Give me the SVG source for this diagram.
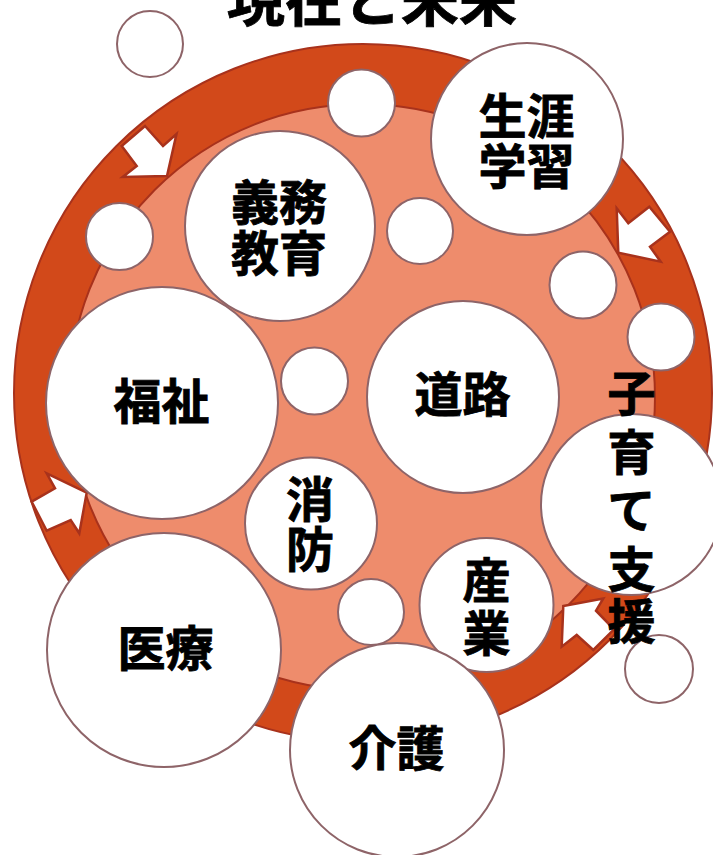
<svg xmlns="http://www.w3.org/2000/svg" width="713" height="855" viewBox="0 0 713 855">
<style>
.ring{fill:#D2491A;stroke:#A8321C;stroke-width:2}
.inner{fill:#EE8C6C;stroke:#A8321C;stroke-width:2}
.arrow{fill:#FFFFFF;stroke:#A8321C;stroke-width:2.5;stroke-linejoin:miter}
.c{fill:#FFFFFF;stroke:#8E6468;stroke-width:2}
.t{font-family:"Noto Sans CJK JP","Noto Sans CJK SC",sans-serif;font-weight:bold;font-size:48px;fill:#000000;stroke:#000000;stroke-width:0.8;text-anchor:middle}
.title{font-family:"Noto Sans CJK JP","Noto Sans CJK SC",sans-serif;font-weight:bold;font-size:58px;fill:#000000;stroke:#000000;stroke-width:0.8;text-anchor:middle}
</style>
<rect width="713" height="855" fill="#FFFFFF"/>
<text class="title" x="372" y="21">現在と未来</text>
<g id="cycle">
<circle class="ring" cx="363" cy="393" r="349"/>
<circle class="inner" cx="362" cy="397" r="293"/>
</g>
<g id="connectors">
<polygon class="arrow" points="121.7,146 145,126 163,146 176.5,134 167,176 122.7,177 136.7,166"/>
<polygon class="arrow" points="616.7,208.3 628.3,223.3 649.3,206.7 670,231.7 650,246.7 660.7,261.7 618.3,252.7"/>
<polygon class="arrow" points="31.7,501.7 55,488.3 46.7,473.3 86.7,492.7 79.3,533.3 70.7,520 46.7,530.7"/>
<polygon class="arrow" points="563.3,606 603.3,598.5 596,610.7 614,629.3 593.3,650 576.7,635 561.7,646.7"/>
</g>
<g id="bubble-s1"><circle class="c" cx="150" cy="44" r="33"/></g>
<g id="bubble-s2"><circle class="c" cx="361.5" cy="103" r="33.5"/></g>
<g id="bubble-s3"><circle class="c" cx="119.5" cy="236.5" r="33.5"/></g>
<g id="bubble-s4"><circle class="c" cx="420" cy="231" r="33"/></g>
<g id="bubble-s5"><circle class="c" cx="583" cy="285" r="33.5"/></g>
<g id="bubble-s6"><circle class="c" cx="661" cy="337" r="33.5"/></g>
<g id="bubble-s7"><circle class="c" cx="314.5" cy="381" r="33.5"/></g>
<g id="bubble-s8"><circle class="c" cx="371" cy="612" r="33"/></g>
<g id="bubble-s9"><circle class="c" cx="659" cy="669" r="34"/></g>
<g id="shogai">
<circle class="c" cx="527" cy="139" r="96"/>
<text class="t"><tspan x="526.5" y="134">生涯</tspan><tspan x="526.5" y="184">学習</tspan></text>
</g>
<g id="gimu">
<circle class="c" cx="280" cy="226" r="95"/>
<text class="t"><tspan x="279" y="220">義務</tspan><tspan x="279" y="271">教育</tspan></text>
</g>
<g id="fukushi">
<circle class="c" cx="162" cy="403" r="116"/>
<text class="t" x="161.5" y="419">福祉</text>
</g>
<g id="doro">
<circle class="c" cx="463" cy="397" r="96"/>
<text class="t" x="462.5" y="412">道路</text>
</g>
<g id="shobo">
<circle class="c" cx="311" cy="523.5" r="66"/>
<text class="t"><tspan x="310" y="517">消</tspan><tspan x="310" y="567">防</tspan></text>
</g>
<g id="iryo">
<circle class="c" cx="164" cy="650" r="117"/>
<text class="t" x="165.5" y="666">医療</text>
</g>
<g id="sangyo">
<circle class="c" cx="486.5" cy="605" r="67"/>
<text class="t"><tspan x="486.5" y="598">産</tspan><tspan x="486.5" y="651">業</tspan></text>
</g>
<g id="kaigo">
<circle class="c" cx="397" cy="750" r="107"/>
<text class="t" x="396.5" y="766">介護</text>
</g>
<g id="kosodate">
<circle class="c" cx="631.5" cy="504.5" r="90.5"/>
<text class="t"><tspan x="631.5" y="411">子</tspan><tspan x="631.5" y="470">育</tspan><tspan x="631.5" y="528">て</tspan><tspan x="631.5" y="587">支</tspan><tspan x="631.5" y="639">援</tspan></text>
</g>
</svg>
